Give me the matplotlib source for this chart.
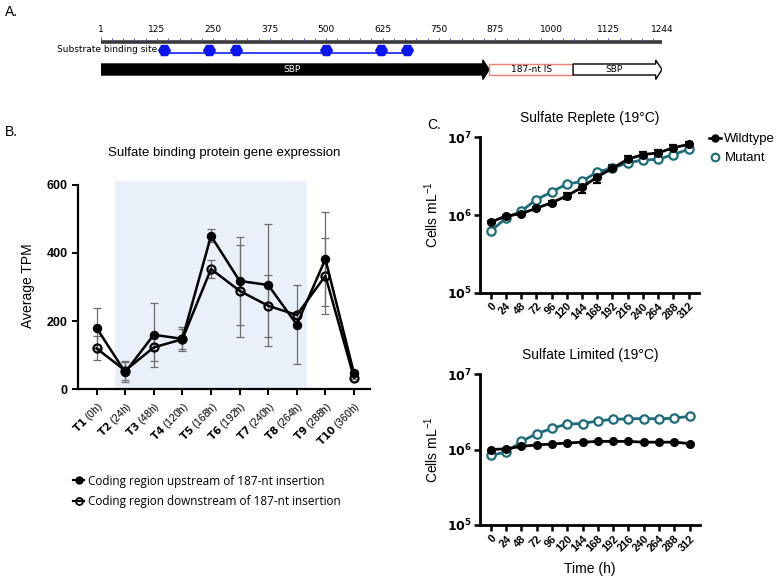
import matplotlib
matplotlib.use("Agg")
import matplotlib.pyplot as plt
from matplotlib.patches import Polygon
from matplotlib.lines import Line2D
import numpy as np

W, H = 777, 579

# ---- panel A data ----
ruler_labels = [1, 125, 250, 375, 500, 625, 750, 875, 1000, 1125, 1244]
binding_sites = [141, 240, 300, 500, 621, 679]
segments = [("SBP", 1, 861, "arrow_black"), ("187-nt IS", 861, 1047, "box"), ("SBP", 1047, 1244, "arrow_white")]

# ---- panel B data ----
time_labels = ["T1", "T2", "T3", "T4", "T5", "T6", "T7", "T8", "T9", "T10"]
time_hours = ["(0h)", "(24h)", "(48h)", "(120h)", "(168h)", "(192h)", "(240h)", "(264h)", "(288h)", "(360h)"]
upstream = [180, 50, 160, 148, 450, 318, 306, 190, 382, 47]
upstream_err = [60, 30, 94, 36, 19, 128, 180, 116, 139, 5]
downstream = [120, 55, 123, 147, 353, 289, 245, 218, 333, 34]
downstream_err = [35, 28, 40, 30, 27, 135, 91, 10, 112, 5]

# ---- panel C data ----
hours = [0, 24, 48, 72, 96, 120, 144, 168, 192, 216, 240, 264, 288, 312]
replete_wt = [8.1e5, 9.7e5, 1.04e6, 1.22e6, 1.44e6, 1.76e6, 2.27e6, 3.1e6, 4.0e6, 5.2e6, 6.0e6, 6.3e6, 7.35e6, 8.1e6]
replete_wt_err = [0.3e5, 0.4e5, 0.5e5, 0.6e5, 0.8e5, 1.5e5, 3.5e5, 5.5e5, 3.5e5, 5e5, 5e5, 5e5, 5e5, 6e5]
replete_mut = [6.2e5, 9.1e5, 1.12e6, 1.58e6, 1.98e6, 2.5e6, 2.7e6, 3.6e6, 4.0e6, 4.7e6, 5.1e6, 5.2e6, 6.0e6, 7.0e6]
limited_wt = [1.0e6, 1.02e6, 1.1e6, 1.15e6, 1.18e6, 1.22e6, 1.25e6, 1.28e6, 1.28e6, 1.28e6, 1.25e6, 1.25e6, 1.25e6, 1.2e6]
limited_mut = [8.4e5, 9.2e5, 1.28e6, 1.62e6, 1.9e6, 2.18e6, 2.2e6, 2.4e6, 2.5e6, 2.55e6, 2.57e6, 2.55e6, 2.6e6, 2.75e6]

teal = "#1c6b7b"
sans = "Liberation Sans"

fig = plt.figure(figsize=(W / 100, H / 100), dpi=100)


def px_axes(x0, y0, x1, y1):
    return fig.add_axes([x0 / W, 1 - y1 / H, (x1 - x0) / W, (y1 - y0) / H])


def ftext(x, y, s, **kw):
    fig.text(x / W, 1 - y / H, s, **kw)


# ================= A =================
ftext(5, 12, "A.", fontsize=10, family=sans, va="center")
ax = px_axes(101, 20, 662, 85)
ax.set_xlim(1, 1244)
ax.set_ylim(85, 20)
ax.axis("off")
ax.plot([1, 1244], [41.7, 41.7], color="#3a3a3a", lw=2.6, solid_capstyle="butt")
ax.vlines(np.arange(25, 1244, 25), 37.5, 40, color="#3344ee", lw=0.6)
ax.vlines([1, 1244], 36.5, 40, color="#3344ee", lw=0.6)
for v in ruler_labels:
    ax.text(v, 30, str(v), fontsize=6.5, ha="center", va="center", family="DejaVu Sans")
ax.text(binding_sites[0] - 16, 49, "Substrate binding site", fontsize=6.5, ha="right", va="center", family="DejaVu Sans")
ax.plot([binding_sites[0], binding_sites[-1]], [53.2, 53.2], color="#1020f0", lw=1.2)
ax.scatter(binding_sites, [49.5] * len(binding_sites), marker="H", s=70, color="#0a14f5", zorder=3)

head = 14
for name, s, e, kind in segments:
    if kind == "box":
        ax.add_patch(Polygon([(s, 64), (e, 64), (e, 75), (s, 75)], closed=True,
                             facecolor="white", edgecolor="#f08070", lw=1))
        ax.text((s + e) / 2, 69.5, name, fontsize=6.5, ha="center", va="center", family="DejaVu Sans")
    else:
        fc = "black" if kind == "arrow_black" else "white"
        tc = "white" if kind == "arrow_black" else "black"
        pts = [(s, 64), (e - head, 64), (e - head, 60), (e, 69.5), (e - head, 79.5), (e - head, 75), (s, 75)]
        ax.add_patch(Polygon(pts, closed=True, facecolor=fc, edgecolor="black", lw=1))
        ax.text((s + e - head) / 2, 69.5, name, fontsize=6.5, ha="center", va="center", color=tc, family="DejaVu Sans")

# ================= B =================
ftext(5, 132, "B.", fontsize=10, family=sans, va="center")
axb = px_axes(78, 181.4, 370, 389.3)
x = np.arange(len(time_labels))
axb.set_xlim(-0.65, 9.56)
axb.set_ylim(0, 610)
axb.axvspan(0.64, 7.36, ymin=0, ymax=1, facecolor="#e9f0fa", edgecolor="none", zorder=0)
axb.errorbar(x, downstream, yerr=downstream_err, fmt="none", ecolor="#6e6e6e", elinewidth=0.9, capsize=3, capthick=0.9, zorder=2)
axb.errorbar(x, upstream, yerr=upstream_err, fmt="none", ecolor="#6e6e6e", elinewidth=0.9, capsize=3, capthick=0.9, zorder=2)
axb.plot(x, downstream, color="black", lw=1.8, marker="o", ms=5.8, mfc="none", mew=1.6, zorder=3)
axb.plot(x, upstream, color="black", lw=1.8, marker="o", ms=5.8, mfc="black", zorder=4)
axb.spines[["top", "right"]].set_visible(False)
axb.spines["left"].set_bounds(0, 600)
for sp in ["left", "bottom"]:
    axb.spines[sp].set_linewidth(1.6)
axb.set_yticks([0, 200, 400, 600])
axb.set_yticklabels(["0", "200", "400", "600"], fontsize=9, fontweight="bold", family=sans)
axb.set_xticks(x)
axb.set_xticklabels([r"$\mathbf{%s}$ %s" % (t, h) for t, h in zip(time_labels, time_hours)],
                    rotation=45, ha="right", rotation_mode="anchor", fontsize=7.5, family=sans)
axb.tick_params(width=1.4, length=4)
axb.set_ylabel("Average TPM", fontsize=10, family=sans, labelpad=8)
axb.set_title("Sulfate binding protein gene expression", fontsize=9.5, family=sans, pad=18)

handles_b = [
    Line2D([], [], color="black", lw=1.6, marker="o", ms=5, mfc="black"),
    Line2D([], [], color="black", lw=1.6, marker="o", ms=5, mfc="none", mew=1.3),
]
fig.legend(handles_b, ["Coding region upstream of 187-nt insertion", "Coding region downstream of 187-nt insertion"],
           loc="upper left", bbox_to_anchor=(62 / W, 1 - 464 / H), frameon=False, handlelength=1.0,
           handletextpad=0.3, labelspacing=0.6, prop={"family": "Open Sans", "size": 8.5})

# ================= C =================
ftext(427, 125, "C.", fontsize=10, family=sans, va="center")


def growth(ax, wt, mut, title, wt_err=None):
    ax.set_yscale("log")
    ax.set_ylim(1e5, 1e7)
    ax.set_xlim(-16.9, 328.4)
    if wt_err is not None:
        ax.errorbar(hours, wt, yerr=wt_err, fmt="none", ecolor="black", elinewidth=1.6, capsize=3, capthick=1.6, zorder=2)
    ax.plot(hours, mut, color=teal, lw=2, marker="o", ms=6, mfc="white", mec=teal, mew=1.6, zorder=3)
    ax.plot(hours, wt, color="black", lw=2, marker="o", ms=5.5, mfc="black", zorder=4)
    ax.spines[["top", "right"]].set_visible(False)
    for sp in ["left", "bottom"]:
        ax.spines[sp].set_linewidth(2)
    ax.set_yticks([1e5, 1e6, 1e7])
    ax.set_yticklabels([r"$\mathbf{10^{5}}$", r"$\mathbf{10^{6}}$", r"$\mathbf{10^{7}}$"], fontsize=9)
    ax.minorticks_off()
    ax.set_xticks(hours)
    ax.set_xticklabels([str(h) for h in hours], rotation=45, ha="right", rotation_mode="anchor",
                       fontsize=7.8, fontweight="bold", family=sans)
    ax.tick_params(width=1.8, length=4, pad=2)
    ax.set_ylabel(r"Cells mL$^{\mathregular{-1}}$", fontsize=10, family=sans, labelpad=4)
    ax.set_title(title, fontsize=10, family=sans, pad=11)


axc1 = px_axes(480, 137.3, 699, 292.7)
growth(axc1, replete_wt, replete_mut, "Sulfate Replete (19°C)", replete_wt_err)
axc2 = px_axes(480, 374, 700, 525)
growth(axc2, limited_wt, limited_mut, "Sulfate Limited (19°C)")
axc2.set_xlabel("Time (h)", fontsize=10, family=sans, labelpad=6)

handles_c = [
    Line2D([], [], color="black", lw=1.8, marker="o", ms=5, mfc="black"),
    Line2D([], [], color=teal, lw=0, marker="o", ms=5.5, mfc="white", mec=teal, mew=1.5),
]
fig.legend(handles_c, ["Wildtype", "Mutant"], loc="upper left", bbox_to_anchor=(700 / W, 1 - 124 / H),
           frameon=False, handlelength=0.9, handletextpad=0.25, labelspacing=0.5, borderpad=0.2,
           prop={"family": sans, "size": 9.5})

fig.savefig("out.png", dpi=100)
